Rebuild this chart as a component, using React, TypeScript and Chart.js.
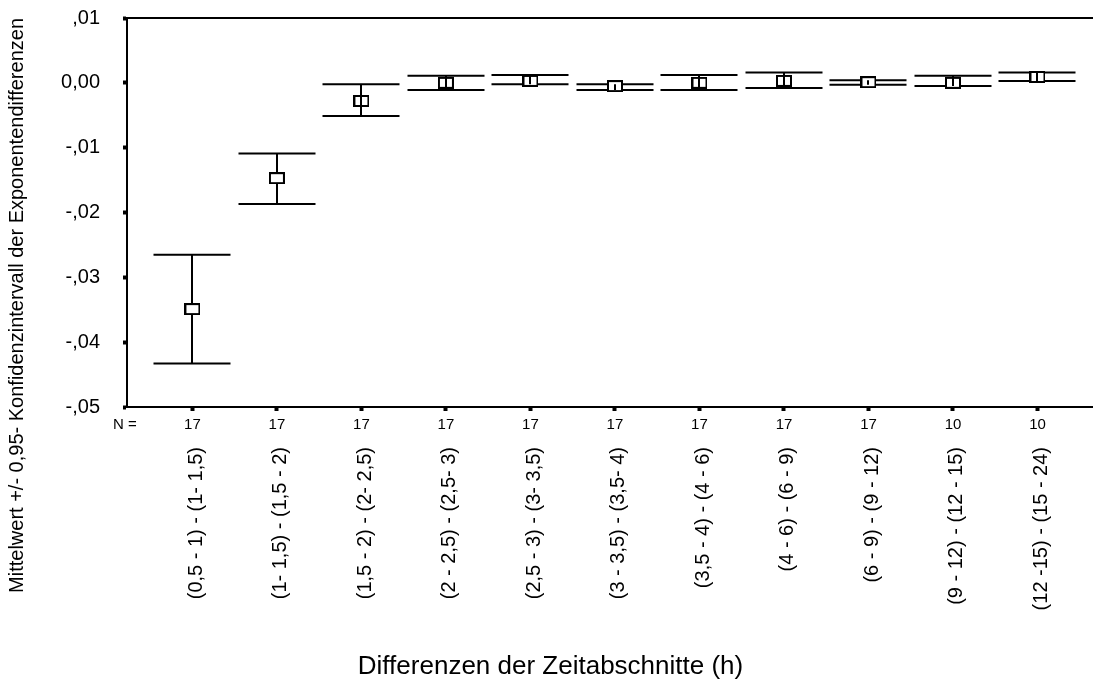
import { useEffect, useRef } from "react";
import { Chart, registerables } from "chart.js";

Chart.register(...registerables);

// Zeitabschnitt-Paare (Kategorien der x-Achse)
const categories = [
  "(0,5 - 1) - (1- 1,5)",
  "(1- 1,5) - (1,5 - 2)",
  "(1,5 - 2) - (2- 2,5)",
  "(2 - 2,5) - (2,5- 3)",
  "(2,5 - 3) - (3- 3,5)",
  "(3 - 3,5) - (3,5- 4)",
  "(3,5 - 4) - (4 - 6)",
  "(4 - 6) - (6 - 9)",
  "(6 - 9) - (9 - 12)",
  "(9 - 12) - (12 - 15)",
  "(12 -15) - (15 - 24)",
];

// Fallzahlen je Kategorie
const counts = [17, 17, 17, 17, 17, 17, 17, 17, 17, 10, 10];

// Mittelwerte und 95%-Konfidenzgrenzen der Exponentendifferenzen
const means = [-0.0349, -0.0147, -0.0028, 0.0, 0.0003, -0.0005, 0.0, 0.0003, 0.0001, 0.0, 0.0009];
const upperBounds = [-0.0265, -0.0109, -0.0002, 0.0011, 0.0012, -0.0002, 0.0012, 0.0016, 0.0004, 0.0011, 0.0016];
const lowerBounds = [-0.0433, -0.0187, -0.0051, -0.0011, -0.0002, -0.0011, -0.0011, -0.0008, -0.0003, -0.0005, 0.0003];

// Achsenbeschriftung der y-Achse
const yTickValues = [-0.05, -0.04, -0.03, -0.02, -0.01, 0, 0.01];
const yTickLabels = ["-,05", "-,04", "-,03", "-,02", "-,01", "0,00", ",01"];

const FONT = "'Liberation Sans', Arial, Helvetica, sans-serif";
const X_MIN = -0.774;
const X_MAX = 10.645;
const LABEL_SHIFT = 0.045;
const N_LABEL_POS = -0.8;
const CAP_HALF = 38.5;

function makeMarker(): HTMLCanvasElement {
  const c = document.createElement("canvas");
  c.width = 16;
  c.height = 12;
  const g = c.getContext("2d")!;
  g.fillStyle = "#ffffff";
  g.fillRect(0, 0, 16, 12);
  g.strokeStyle = "#000000";
  g.lineWidth = 2;
  g.strokeRect(1, 1, 14, 10);
  return c;
}

// Fehlerbalken: Querstriche und senkrechte Linie; bei kurzen Intervallen
// liegt die senkrechte Linie über dem Mittelwert-Symbol.
function drawErrorBars(chart: any, overMarker: boolean) {
  const { ctx, scales } = chart;
  const x = scales.x;
  const y = scales.y;
  ctx.save();
  ctx.strokeStyle = "#000";
  ctx.lineWidth = 2;
  ctx.lineCap = "butt";
  categories.forEach((_, i) => {
    const px = Math.round(x.getPixelForValue(i));
    const yt = y.getPixelForValue(upperBounds[i]);
    const yb = y.getPixelForValue(lowerBounds[i]);
    const narrow = yb - yt < 40;
    ctx.beginPath();
    if (!overMarker) {
      ctx.moveTo(px - CAP_HALF, yt);
      ctx.lineTo(px + CAP_HALF, yt);
      ctx.moveTo(px - CAP_HALF, yb);
      ctx.lineTo(px + CAP_HALF, yb);
      if (!narrow) {
        ctx.moveTo(px, yt);
        ctx.lineTo(px, yb);
      }
    } else if (narrow) {
      ctx.moveTo(px, yt);
      ctx.lineTo(px, yb);
    }
    ctx.stroke();
  });
  ctx.restore();
}

const errorBarPlugin = {
  id: "errorBars",
  beforeDatasetsDraw(chart: any) {
    drawErrorBars(chart, false);
  },
  afterDatasetsDraw(chart: any) {
    drawErrorBars(chart, true);
  },
};

// Achsen sollen keinen zusätzlichen Randabstand für ihre Beschriftungen erzwingen
function noScalePadding(s: any) {
  s.paddingTop = 0;
  s.paddingBottom = 0;
  s.paddingLeft = 0;
  s.paddingRight = 0;
}

export default function App() {
  const canvasRef = useRef<HTMLCanvasElement | null>(null);

  useEffect(() => {
    if (!canvasRef.current) return;
    const marker = makeMarker();
    const chart = new Chart(canvasRef.current, {
      type: "scatter",
      data: {
        datasets: [
          {
            data: means.map((m, i) => ({ x: i, y: m })),
            xAxisID: "x",
            yAxisID: "y",
            pointStyle: marker as any,
            pointRadius: 8,
            showLine: false,
          } as any,
        ],
      },
      options: {
        animation: false,
        responsive: false,
        layout: { padding: { top: 18, left: 0, right: 0, bottom: 0 } },
        plugins: {
          legend: { display: false },
          tooltip: { enabled: false },
          title: {
            display: true,
            position: "bottom",
            text: "Differenzen der Zeitabschnitte (h)",
            color: "#000",
            font: { family: FONT, size: 26, weight: "normal" as any },
            padding: { top: 0, bottom: 0 },
          },
        },
        scales: {
          x: {
            type: "linear",
            axis: "x",
            position: "bottom",
            weight: 0,
            min: X_MIN,
            max: X_MAX,
            afterBuildTicks: (s: any) => {
              s.ticks = [{ value: N_LABEL_POS }, ...counts.map((_, i) => ({ value: i }))];
            },
            afterFit: (s: any) => {
              s.height = 30;
              noScalePadding(s);
            },
            ticks: {
              autoSkip: false,
              maxRotation: 0,
              minRotation: 0,
              color: "#000",
              padding: 5,
              font: { family: FONT, size: 15 },
              callback: (_v: any, i: number) => (i === 0 ? "N =" : String(counts[i - 1])),
            },
            grid: {
              drawOnChartArea: false,
              tickLength: 4,
              tickWidth: 4,
              tickColor: (c: any) => (c.index === 0 ? "rgba(0,0,0,0)" : "#000"),
            },
            border: { color: "#000", width: 2 },
          },
          xLabels: {
            type: "linear",
            axis: "x",
            position: "bottom",
            weight: 1,
            min: X_MIN - LABEL_SHIFT,
            max: X_MAX - LABEL_SHIFT,
            afterBuildTicks: (s: any) => {
              s.ticks = categories.map((_, i) => ({ value: i }));
            },
            afterFit: (s: any) => {
              s.height = 213.8;
              noScalePadding(s);
            },
            ticks: {
              autoSkip: false,
              maxRotation: 90,
              minRotation: 90,
              color: "#000",
              padding: 2,
              font: { family: FONT, size: 20 },
              callback: (_v: any, i: number) => categories[i],
            },
            grid: { display: false },
            border: { display: false },
          },
          xTop: {
            type: "linear",
            axis: "x",
            position: "top",
            ticks: { display: false },
            grid: { drawOnChartArea: false, drawTicks: false },
            border: { color: "#000", width: 2 },
            afterFit: (s: any) => {
              s.height = 0;
              noScalePadding(s);
            },
          },
          y: {
            type: "linear",
            position: "left",
            min: -0.05,
            max: 0.01,
            afterBuildTicks: (s: any) => {
              s.ticks = yTickValues.map((v) => ({ value: v }));
            },
            afterFit: (s: any) => {
              s.width = 127;
              noScalePadding(s);
            },
            ticks: {
              color: "#000",
              padding: 23,
              font: { family: FONT, size: 20 },
              callback: (_v: any, i: number) => yTickLabels[i],
            },
            grid: {
              drawOnChartArea: false,
              tickLength: 4,
              tickWidth: 4,
              tickColor: "#000",
            },
            border: { color: "#000", width: 2 },
            title: {
              display: true,
              text: "Mittelwert +/- 0,95- Konfidenzintervall der Exponentendifferenzen",
              align: "end",
              color: "#000",
              font: { family: FONT, size: 20 },
              padding: { top: 5, bottom: 0 },
            },
          },
        } as any,
      },
      plugins: [errorBarPlugin],
    });
    return () => chart.destroy();
  }, []);

  return (
    <div style={{ position: "absolute", left: 0, top: 0, width: 1101, height: 682, background: "#fff" }}>
      <canvas ref={canvasRef} width={1101} height={682} style={{ display: "block" }} />
    </div>
  );
}
